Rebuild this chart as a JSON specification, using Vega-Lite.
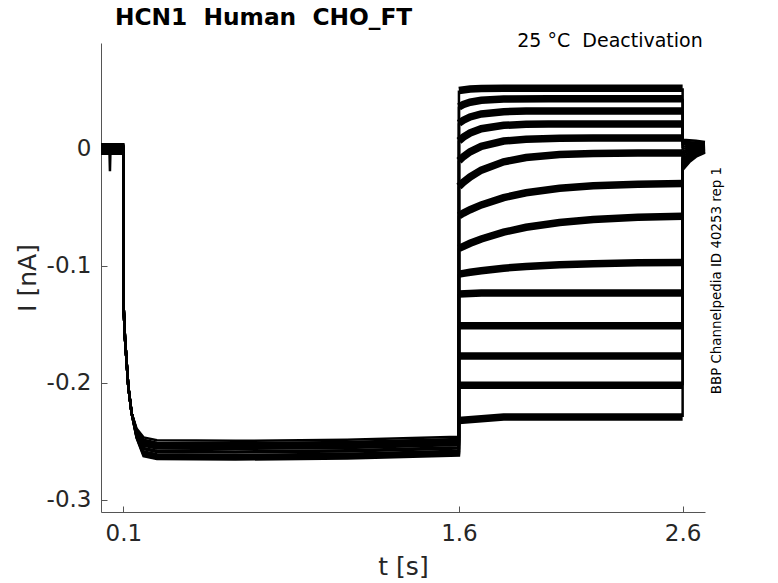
{
  "$schema": "https://vega.github.io/schema/vega-lite/v6.json",
  "width": 604,
  "height": 469,
  "autosize": "none",
  "padding": {"left": 101, "top": 43, "right": 73, "bottom": 71},
  "background": "white",
  "config": {
    "font": "DejaVu Sans",
    "view": {"stroke": null},
    "axis": {
      "grid": false,
      "domainColor": "#555555",
      "tickColor": "#555555",
      "tickSize": -6,
      "labelColor": "#262626",
      "titleColor": "#262626",
      "labelFont": "DejaVu Sans",
      "titleFont": "DejaVu Sans",
      "labelFontSize": 23,
      "titleFontSize": 25,
      "titleFontWeight": "normal"
    }
  },
  "title": {
    "text": "HCN1 \u00a0Human \u00a0CHO_FT",
    "anchor": "start",
    "frame": "group",
    "dx": 14,
    "offset": -16,
    "baseline": "alphabetic",
    "font": "DejaVu Sans",
    "fontSize": 23.3,
    "fontWeight": "bold",
    "color": "#000000"
  },
  "layer": [
    {
      "data": {
        "values": [
          {"sweep":1,"phase":"hold","t":0,"i":0.003},{"sweep":1,"phase":"hold","t":0.1,"i":0.003},{"sweep":1,"phase":"hold","t":0.1005,"i":-0.132},{"sweep":1,"phase":"hold","t":0.107,"i":-0.161},{"sweep":1,"phase":"hold","t":0.122,"i":-0.203},{"sweep":1,"phase":"hold","t":0.137,"i":-0.226},{"sweep":1,"phase":"hold","t":0.159,"i":-0.240},{"sweep":1,"phase":"hold","t":0.19,"i":-0.2485},{"sweep":1,"phase":"hold","t":0.25,"i":-0.251},{"sweep":1,"phase":"hold","t":0.6,"i":-0.2515},{"sweep":1,"phase":"hold","t":1.1,"i":-0.2505},{"sweep":1,"phase":"hold","t":1.6,"i":-0.248},{"sweep":1,"phase":"hold","t":1.6001,"i":0.050},
          {"sweep":1,"phase":"test","t":1.6001,"i":0.050},{"sweep":1,"phase":"test","t":1.65,"i":0.0513},{"sweep":1,"phase":"test","t":1.7,"i":0.0517},{"sweep":1,"phase":"test","t":1.8,"i":0.052},{"sweep":1,"phase":"test","t":2.6,"i":0.052},
          {"sweep":1,"phase":"tail","t":2.6,"i":0.052},{"sweep":1,"phase":"tail","t":2.6001,"i":0.008},{"sweep":1,"phase":"tail","t":2.63,"i":0.0075},{"sweep":1,"phase":"tail","t":2.66,"i":0.007},{"sweep":1,"phase":"tail","t":2.7,"i":0.006},

          {"sweep":2,"phase":"hold","t":0,"i":-0.002},{"sweep":2,"phase":"hold","t":0.1,"i":-0.002},{"sweep":2,"phase":"hold","t":0.1005,"i":-0.132},{"sweep":2,"phase":"hold","t":0.107,"i":-0.161},{"sweep":2,"phase":"hold","t":0.122,"i":-0.203},{"sweep":2,"phase":"hold","t":0.137,"i":-0.226},{"sweep":2,"phase":"hold","t":0.159,"i":-0.245},{"sweep":2,"phase":"hold","t":0.19,"i":-0.2585},{"sweep":2,"phase":"hold","t":0.25,"i":-0.261},{"sweep":2,"phase":"hold","t":0.6,"i":-0.2615},{"sweep":2,"phase":"hold","t":1.1,"i":-0.2605},{"sweep":2,"phase":"hold","t":1.6,"i":-0.258},{"sweep":2,"phase":"hold","t":1.6001,"i":0.036},
          {"sweep":2,"phase":"test","t":1.6001,"i":0.036},{"sweep":2,"phase":"test","t":1.62,"i":0.038},{"sweep":2,"phase":"test","t":1.65,"i":0.040},{"sweep":2,"phase":"test","t":1.7,"i":0.0417},{"sweep":2,"phase":"test","t":1.8,"i":0.0427},{"sweep":2,"phase":"test","t":2.0,"i":0.043},{"sweep":2,"phase":"test","t":2.6,"i":0.043},
          {"sweep":2,"phase":"tail","t":2.6,"i":0.043},{"sweep":2,"phase":"tail","t":2.6001,"i":0.006},{"sweep":2,"phase":"tail","t":2.63,"i":0.0058},{"sweep":2,"phase":"tail","t":2.66,"i":0.0055},{"sweep":2,"phase":"tail","t":2.7,"i":0.0053},

          {"sweep":3,"phase":"hold","t":0,"i":0.001},{"sweep":3,"phase":"hold","t":0.1,"i":0.001},{"sweep":3,"phase":"hold","t":0.1005,"i":-0.132},{"sweep":3,"phase":"hold","t":0.107,"i":-0.161},{"sweep":3,"phase":"hold","t":0.122,"i":-0.203},{"sweep":3,"phase":"hold","t":0.137,"i":-0.226},{"sweep":3,"phase":"hold","t":0.159,"i":-0.242},{"sweep":3,"phase":"hold","t":0.19,"i":-0.2525},{"sweep":3,"phase":"hold","t":0.25,"i":-0.255},{"sweep":3,"phase":"hold","t":0.6,"i":-0.2555},{"sweep":3,"phase":"hold","t":1.1,"i":-0.2545},{"sweep":3,"phase":"hold","t":1.6,"i":-0.252},{"sweep":3,"phase":"hold","t":1.6001,"i":0.022},
          {"sweep":3,"phase":"test","t":1.6001,"i":0.022},{"sweep":3,"phase":"test","t":1.62,"i":0.0246},{"sweep":3,"phase":"test","t":1.65,"i":0.0274},{"sweep":3,"phase":"test","t":1.7,"i":0.030},{"sweep":3,"phase":"test","t":1.8,"i":0.0319},{"sweep":3,"phase":"test","t":1.9,"i":0.0324},{"sweep":3,"phase":"test","t":2.6,"i":0.0325},
          {"sweep":3,"phase":"tail","t":2.6,"i":0.0325},{"sweep":3,"phase":"tail","t":2.6001,"i":0.004},{"sweep":3,"phase":"tail","t":2.63,"i":0.0042},{"sweep":3,"phase":"tail","t":2.66,"i":0.0044},{"sweep":3,"phase":"tail","t":2.7,"i":0.0046},

          {"sweep":4,"phase":"hold","t":0,"i":-0.0035},{"sweep":4,"phase":"hold","t":0.038,"i":-0.0035},{"sweep":4,"phase":"hold","t":0.04,"i":-0.019},{"sweep":4,"phase":"hold","t":0.042,"i":-0.0035},{"sweep":4,"phase":"hold","t":0.1,"i":-0.0035},{"sweep":4,"phase":"hold","t":0.1005,"i":-0.132},{"sweep":4,"phase":"hold","t":0.107,"i":-0.161},{"sweep":4,"phase":"hold","t":0.122,"i":-0.203},{"sweep":4,"phase":"hold","t":0.137,"i":-0.226},{"sweep":4,"phase":"hold","t":0.159,"i":-0.2465},{"sweep":4,"phase":"hold","t":0.19,"i":-0.2615},{"sweep":4,"phase":"hold","t":0.25,"i":-0.264},{"sweep":4,"phase":"hold","t":0.6,"i":-0.2645},{"sweep":4,"phase":"hold","t":1.1,"i":-0.2635},{"sweep":4,"phase":"hold","t":1.6,"i":-0.261},{"sweep":4,"phase":"hold","t":1.6001,"i":0.007},
          {"sweep":4,"phase":"test","t":1.6001,"i":0.007},{"sweep":4,"phase":"test","t":1.62,"i":0.0102},{"sweep":4,"phase":"test","t":1.65,"i":0.0137},{"sweep":4,"phase":"test","t":1.7,"i":0.0173},{"sweep":4,"phase":"test","t":1.8,"i":0.0202},{"sweep":4,"phase":"test","t":1.9,"i":0.0211},{"sweep":4,"phase":"test","t":2.0,"i":0.0213},{"sweep":4,"phase":"test","t":2.6,"i":0.0214},
          {"sweep":4,"phase":"tail","t":2.6,"i":0.0214},{"sweep":4,"phase":"tail","t":2.6001,"i":0.002},{"sweep":4,"phase":"tail","t":2.63,"i":0.0028},{"sweep":4,"phase":"tail","t":2.66,"i":0.0034},{"sweep":4,"phase":"tail","t":2.7,"i":0.0039},

          {"sweep":5,"phase":"hold","t":0,"i":0.002},{"sweep":5,"phase":"hold","t":0.1,"i":0.002},{"sweep":5,"phase":"hold","t":0.1005,"i":-0.132},{"sweep":5,"phase":"hold","t":0.107,"i":-0.161},{"sweep":5,"phase":"hold","t":0.122,"i":-0.203},{"sweep":5,"phase":"hold","t":0.137,"i":-0.226},{"sweep":5,"phase":"hold","t":0.159,"i":-0.241},{"sweep":5,"phase":"hold","t":0.19,"i":-0.2505},{"sweep":5,"phase":"hold","t":0.25,"i":-0.253},{"sweep":5,"phase":"hold","t":0.6,"i":-0.2535},{"sweep":5,"phase":"hold","t":1.1,"i":-0.2525},{"sweep":5,"phase":"hold","t":1.6,"i":-0.250},{"sweep":5,"phase":"hold","t":1.6001,"i":-0.010},
          {"sweep":5,"phase":"test","t":1.6001,"i":-0.010},{"sweep":5,"phase":"test","t":1.62,"i":-0.0065},{"sweep":5,"phase":"test","t":1.65,"i":-0.0024},{"sweep":5,"phase":"test","t":1.7,"i":0.0023},{"sweep":5,"phase":"test","t":1.8,"i":0.0068},{"sweep":5,"phase":"test","t":1.9,"i":0.0084},{"sweep":5,"phase":"test","t":2.05,"i":0.0092},{"sweep":5,"phase":"test","t":2.2,"i":0.0094},{"sweep":5,"phase":"test","t":2.6,"i":0.0094},
          {"sweep":5,"phase":"tail","t":2.6,"i":0.0094},{"sweep":5,"phase":"tail","t":2.6001,"i":0.000},{"sweep":5,"phase":"tail","t":2.63,"i":0.0014},{"sweep":5,"phase":"tail","t":2.66,"i":0.0024},{"sweep":5,"phase":"tail","t":2.7,"i":0.0032},

          {"sweep":6,"phase":"hold","t":0,"i":-0.0005},{"sweep":6,"phase":"hold","t":0.1,"i":-0.0005},{"sweep":6,"phase":"hold","t":0.1005,"i":-0.132},{"sweep":6,"phase":"hold","t":0.107,"i":-0.161},{"sweep":6,"phase":"hold","t":0.122,"i":-0.203},{"sweep":6,"phase":"hold","t":0.137,"i":-0.226},{"sweep":6,"phase":"hold","t":0.159,"i":-0.2435},{"sweep":6,"phase":"hold","t":0.19,"i":-0.2555},{"sweep":6,"phase":"hold","t":0.25,"i":-0.258},{"sweep":6,"phase":"hold","t":0.6,"i":-0.2585},{"sweep":6,"phase":"hold","t":1.1,"i":-0.2575},{"sweep":6,"phase":"hold","t":1.6,"i":-0.255},{"sweep":6,"phase":"hold","t":1.6001,"i":-0.032},
          {"sweep":6,"phase":"test","t":1.6001,"i":-0.032},{"sweep":6,"phase":"test","t":1.62,"i":-0.0284},{"sweep":6,"phase":"test","t":1.65,"i":-0.0239},{"sweep":6,"phase":"test","t":1.7,"i":-0.0181},{"sweep":6,"phase":"test","t":1.8,"i":-0.0110},{"sweep":6,"phase":"test","t":1.9,"i":-0.0073},{"sweep":6,"phase":"test","t":2.05,"i":-0.0048},{"sweep":6,"phase":"test","t":2.2,"i":-0.0039},{"sweep":6,"phase":"test","t":2.4,"i":-0.0035},{"sweep":6,"phase":"test","t":2.6,"i":-0.0034},
          {"sweep":6,"phase":"tail","t":2.6,"i":-0.0034},{"sweep":6,"phase":"tail","t":2.6001,"i":-0.002},{"sweep":6,"phase":"tail","t":2.63,"i":0.0000},{"sweep":6,"phase":"tail","t":2.66,"i":0.0014},{"sweep":6,"phase":"tail","t":2.7,"i":0.0025},

          {"sweep":7,"phase":"hold","t":0,"i":0.004},{"sweep":7,"phase":"hold","t":0.1,"i":0.004},{"sweep":7,"phase":"hold","t":0.1005,"i":-0.132},{"sweep":7,"phase":"hold","t":0.107,"i":-0.161},{"sweep":7,"phase":"hold","t":0.122,"i":-0.203},{"sweep":7,"phase":"hold","t":0.137,"i":-0.226},{"sweep":7,"phase":"hold","t":0.159,"i":-0.239},{"sweep":7,"phase":"hold","t":0.19,"i":-0.2465},{"sweep":7,"phase":"hold","t":0.25,"i":-0.249},{"sweep":7,"phase":"hold","t":0.6,"i":-0.2495},{"sweep":7,"phase":"hold","t":1.1,"i":-0.2485},{"sweep":7,"phase":"hold","t":1.6,"i":-0.246},{"sweep":7,"phase":"hold","t":1.6001,"i":-0.057},
          {"sweep":7,"phase":"test","t":1.6001,"i":-0.057},{"sweep":7,"phase":"test","t":1.62,"i":-0.0548},{"sweep":7,"phase":"test","t":1.65,"i":-0.0519},{"sweep":7,"phase":"test","t":1.7,"i":-0.0478},{"sweep":7,"phase":"test","t":1.8,"i":-0.0416},{"sweep":7,"phase":"test","t":1.9,"i":-0.0374},{"sweep":7,"phase":"test","t":2.05,"i":-0.0336},{"sweep":7,"phase":"test","t":2.2,"i":-0.0315},{"sweep":7,"phase":"test","t":2.4,"i":-0.0301},{"sweep":7,"phase":"test","t":2.6,"i":-0.0295},
          {"sweep":7,"phase":"tail","t":2.6,"i":-0.0295},{"sweep":7,"phase":"tail","t":2.6001,"i":-0.004},{"sweep":7,"phase":"tail","t":2.63,"i":-0.0014},{"sweep":7,"phase":"tail","t":2.66,"i":0.0004},{"sweep":7,"phase":"tail","t":2.7,"i":0.0018},

          {"sweep":8,"phase":"hold","t":0,"i":-0.0025},{"sweep":8,"phase":"hold","t":0.1,"i":-0.0025},{"sweep":8,"phase":"hold","t":0.1005,"i":-0.132},{"sweep":8,"phase":"hold","t":0.107,"i":-0.161},{"sweep":8,"phase":"hold","t":0.122,"i":-0.203},{"sweep":8,"phase":"hold","t":0.137,"i":-0.226},{"sweep":8,"phase":"hold","t":0.159,"i":-0.2455},{"sweep":8,"phase":"hold","t":0.19,"i":-0.2595},{"sweep":8,"phase":"hold","t":0.25,"i":-0.262},{"sweep":8,"phase":"hold","t":0.6,"i":-0.2625},{"sweep":8,"phase":"hold","t":1.1,"i":-0.2615},{"sweep":8,"phase":"hold","t":1.6,"i":-0.259},{"sweep":8,"phase":"hold","t":1.6001,"i":-0.085},
          {"sweep":8,"phase":"test","t":1.6001,"i":-0.085},{"sweep":8,"phase":"test","t":1.62,"i":-0.0832},{"sweep":8,"phase":"test","t":1.65,"i":-0.0806},{"sweep":8,"phase":"test","t":1.7,"i":-0.0769},{"sweep":8,"phase":"test","t":1.8,"i":-0.0711},{"sweep":8,"phase":"test","t":1.9,"i":-0.0669},{"sweep":8,"phase":"test","t":2.05,"i":-0.0628},{"sweep":8,"phase":"test","t":2.2,"i":-0.0603},{"sweep":8,"phase":"test","t":2.4,"i":-0.0584},{"sweep":8,"phase":"test","t":2.6,"i":-0.0574},
          {"sweep":8,"phase":"tail","t":2.6,"i":-0.0574},{"sweep":8,"phase":"tail","t":2.6001,"i":-0.006},{"sweep":8,"phase":"tail","t":2.63,"i":-0.0028},{"sweep":8,"phase":"tail","t":2.66,"i":-0.0006},{"sweep":8,"phase":"tail","t":2.7,"i":0.0011},

          {"sweep":9,"phase":"hold","t":0,"i":0.0005},{"sweep":9,"phase":"hold","t":0.1,"i":0.0005},{"sweep":9,"phase":"hold","t":0.1005,"i":-0.132},{"sweep":9,"phase":"hold","t":0.107,"i":-0.161},{"sweep":9,"phase":"hold","t":0.122,"i":-0.203},{"sweep":9,"phase":"hold","t":0.137,"i":-0.226},{"sweep":9,"phase":"hold","t":0.159,"i":-0.2425},{"sweep":9,"phase":"hold","t":0.19,"i":-0.2535},{"sweep":9,"phase":"hold","t":0.25,"i":-0.256},{"sweep":9,"phase":"hold","t":0.6,"i":-0.2565},{"sweep":9,"phase":"hold","t":1.1,"i":-0.2555},{"sweep":9,"phase":"hold","t":1.6,"i":-0.253},{"sweep":9,"phase":"hold","t":1.6001,"i":-0.107},
          {"sweep":9,"phase":"test","t":1.6001,"i":-0.107},{"sweep":9,"phase":"test","t":1.62,"i":-0.1063},{"sweep":9,"phase":"test","t":1.65,"i":-0.1054},{"sweep":9,"phase":"test","t":1.7,"i":-0.1041},{"sweep":9,"phase":"test","t":1.8,"i":-0.1019},{"sweep":9,"phase":"test","t":1.9,"i":-0.1004},{"sweep":9,"phase":"test","t":2.05,"i":-0.0989},{"sweep":9,"phase":"test","t":2.2,"i":-0.098},{"sweep":9,"phase":"test","t":2.4,"i":-0.0973},{"sweep":9,"phase":"test","t":2.6,"i":-0.097},
          {"sweep":9,"phase":"tail","t":2.6,"i":-0.097},{"sweep":9,"phase":"tail","t":2.6001,"i":-0.008},{"sweep":9,"phase":"tail","t":2.63,"i":-0.0042},{"sweep":9,"phase":"tail","t":2.66,"i":-0.0016},{"sweep":9,"phase":"tail","t":2.7,"i":0.0004},

          {"sweep":10,"phase":"hold","t":0,"i":-0.004},{"sweep":10,"phase":"hold","t":0.1,"i":-0.004},{"sweep":10,"phase":"hold","t":0.1005,"i":-0.132},{"sweep":10,"phase":"hold","t":0.107,"i":-0.161},{"sweep":10,"phase":"hold","t":0.122,"i":-0.203},{"sweep":10,"phase":"hold","t":0.137,"i":-0.226},{"sweep":10,"phase":"hold","t":0.159,"i":-0.247},{"sweep":10,"phase":"hold","t":0.19,"i":-0.2625},{"sweep":10,"phase":"hold","t":0.25,"i":-0.265},{"sweep":10,"phase":"hold","t":0.6,"i":-0.2655},{"sweep":10,"phase":"hold","t":1.1,"i":-0.2645},{"sweep":10,"phase":"hold","t":1.6,"i":-0.262},{"sweep":10,"phase":"hold","t":1.6001,"i":-0.124},
          {"sweep":10,"phase":"test","t":1.6001,"i":-0.124},{"sweep":10,"phase":"test","t":1.7,"i":-0.123},{"sweep":10,"phase":"test","t":2.6,"i":-0.123},
          {"sweep":10,"phase":"tail","t":2.6,"i":-0.123},{"sweep":10,"phase":"tail","t":2.6001,"i":-0.010},{"sweep":10,"phase":"tail","t":2.63,"i":-0.0056},{"sweep":10,"phase":"tail","t":2.66,"i":-0.0026},{"sweep":10,"phase":"tail","t":2.7,"i":-0.0003},

          {"sweep":11,"phase":"hold","t":0,"i":0.0025},{"sweep":11,"phase":"hold","t":0.1,"i":0.0025},{"sweep":11,"phase":"hold","t":0.1005,"i":-0.132},{"sweep":11,"phase":"hold","t":0.107,"i":-0.161},{"sweep":11,"phase":"hold","t":0.122,"i":-0.203},{"sweep":11,"phase":"hold","t":0.137,"i":-0.226},{"sweep":11,"phase":"hold","t":0.159,"i":-0.2405},{"sweep":11,"phase":"hold","t":0.19,"i":-0.2495},{"sweep":11,"phase":"hold","t":0.25,"i":-0.252},{"sweep":11,"phase":"hold","t":0.6,"i":-0.2525},{"sweep":11,"phase":"hold","t":1.1,"i":-0.2515},{"sweep":11,"phase":"hold","t":1.6,"i":-0.249},{"sweep":11,"phase":"hold","t":1.6001,"i":-0.151},
          {"sweep":11,"phase":"test","t":1.6001,"i":-0.151},{"sweep":11,"phase":"test","t":2.6,"i":-0.151},
          {"sweep":11,"phase":"tail","t":2.6,"i":-0.151},{"sweep":11,"phase":"tail","t":2.6001,"i":-0.012},{"sweep":11,"phase":"tail","t":2.63,"i":-0.007},{"sweep":11,"phase":"tail","t":2.66,"i":-0.0036},{"sweep":11,"phase":"tail","t":2.7,"i":-0.001},

          {"sweep":12,"phase":"hold","t":0,"i":-0.001},{"sweep":12,"phase":"hold","t":0.1,"i":-0.001},{"sweep":12,"phase":"hold","t":0.1005,"i":-0.132},{"sweep":12,"phase":"hold","t":0.107,"i":-0.161},{"sweep":12,"phase":"hold","t":0.122,"i":-0.203},{"sweep":12,"phase":"hold","t":0.137,"i":-0.226},{"sweep":12,"phase":"hold","t":0.159,"i":-0.244},{"sweep":12,"phase":"hold","t":0.19,"i":-0.2565},{"sweep":12,"phase":"hold","t":0.25,"i":-0.259},{"sweep":12,"phase":"hold","t":0.6,"i":-0.2595},{"sweep":12,"phase":"hold","t":1.1,"i":-0.2585},{"sweep":12,"phase":"hold","t":1.6,"i":-0.256},{"sweep":12,"phase":"hold","t":1.6001,"i":-0.177},
          {"sweep":12,"phase":"test","t":1.6001,"i":-0.177},{"sweep":12,"phase":"test","t":2.6,"i":-0.177},
          {"sweep":12,"phase":"tail","t":2.6,"i":-0.177},{"sweep":12,"phase":"tail","t":2.6001,"i":-0.014},{"sweep":12,"phase":"tail","t":2.63,"i":-0.0084},{"sweep":12,"phase":"tail","t":2.66,"i":-0.0046},{"sweep":12,"phase":"tail","t":2.7,"i":-0.0017},

          {"sweep":13,"phase":"hold","t":0,"i":0.0015},{"sweep":13,"phase":"hold","t":0.1,"i":0.0015},{"sweep":13,"phase":"hold","t":0.1005,"i":-0.132},{"sweep":13,"phase":"hold","t":0.107,"i":-0.161},{"sweep":13,"phase":"hold","t":0.122,"i":-0.203},{"sweep":13,"phase":"hold","t":0.137,"i":-0.226},{"sweep":13,"phase":"hold","t":0.159,"i":-0.2415},{"sweep":13,"phase":"hold","t":0.19,"i":-0.2515},{"sweep":13,"phase":"hold","t":0.25,"i":-0.254},{"sweep":13,"phase":"hold","t":0.6,"i":-0.2545},{"sweep":13,"phase":"hold","t":1.1,"i":-0.2535},{"sweep":13,"phase":"hold","t":1.6,"i":-0.251},{"sweep":13,"phase":"hold","t":1.6001,"i":-0.202},
          {"sweep":13,"phase":"test","t":1.6001,"i":-0.202},{"sweep":13,"phase":"test","t":2.6,"i":-0.202},
          {"sweep":13,"phase":"tail","t":2.6,"i":-0.202},{"sweep":13,"phase":"tail","t":2.6001,"i":-0.016},{"sweep":13,"phase":"tail","t":2.63,"i":-0.0098},{"sweep":13,"phase":"tail","t":2.66,"i":-0.0056},{"sweep":13,"phase":"tail","t":2.7,"i":-0.0024},

          {"sweep":14,"phase":"hold","t":0,"i":-0.003},{"sweep":14,"phase":"hold","t":0.1,"i":-0.003},{"sweep":14,"phase":"hold","t":0.1005,"i":-0.132},{"sweep":14,"phase":"hold","t":0.107,"i":-0.161},{"sweep":14,"phase":"hold","t":0.122,"i":-0.203},{"sweep":14,"phase":"hold","t":0.137,"i":-0.226},{"sweep":14,"phase":"hold","t":0.159,"i":-0.246},{"sweep":14,"phase":"hold","t":0.19,"i":-0.2605},{"sweep":14,"phase":"hold","t":0.25,"i":-0.263},{"sweep":14,"phase":"hold","t":0.6,"i":-0.2635},{"sweep":14,"phase":"hold","t":1.1,"i":-0.2625},{"sweep":14,"phase":"hold","t":1.6,"i":-0.260},{"sweep":14,"phase":"hold","t":1.6001,"i":-0.232},
          {"sweep":14,"phase":"test","t":1.6001,"i":-0.232},{"sweep":14,"phase":"test","t":1.8,"i":-0.229},{"sweep":14,"phase":"test","t":2.6,"i":-0.229},
          {"sweep":14,"phase":"tail","t":2.6,"i":-0.229},{"sweep":14,"phase":"tail","t":2.6001,"i":-0.018},{"sweep":14,"phase":"tail","t":2.63,"i":-0.0112},{"sweep":14,"phase":"tail","t":2.66,"i":-0.0066},{"sweep":14,"phase":"tail","t":2.7,"i":-0.003}
        ]
      },
      "encoding": {
        "x": {
          "field": "t",
          "type": "quantitative",
          "scale": {"domain": [0, 2.7], "nice": false, "zero": false},
          "axis": {
            "values": [0.1, 1.6, 2.6],
            "format": ".1f",
            "title": "t [s]",
            "labelPadding": 16,
            "titlePadding": 9
          }
        },
        "y": {
          "field": "i",
          "type": "quantitative",
          "scale": {"domain": [-0.3103, 0.0906], "nice": false, "zero": false},
          "axis": {
            "values": [0, -0.1, -0.2, -0.3],
            "labelExpr": "datum.value == 0 ? '0' : '-' + format(abs(datum.value), '.1f')",
            "title": "I [nA]",
            "labelPadding": 16,
            "titlePadding": 6
          }
        },
        "detail": {"field": "sweep", "type": "nominal"}
      },
      "layer": [
        {
          "transform": [{"filter": "datum.phase == 'hold'"}],
          "mark": {"type": "line", "color": "#000000", "strokeWidth": 2.5}
        },
        {
          "transform": [{"filter": "datum.phase == 'test'"}],
          "mark": {"type": "line", "color": "#000000", "strokeWidth": 7.5}
        },
        {
          "transform": [{"filter": "datum.phase == 'tail'"}],
          "mark": {"type": "line", "color": "#000000", "strokeWidth": 2.5}
        }
      ]
    },
    {
      "data": {"values": [{"note": "25 °C \u00a0Deactivation"}]},
      "mark": {"type": "text", "align": "right", "baseline": "alphabetic", "fontSize": 19, "color": "#000000", "font": "DejaVu Sans"},
      "encoding": {
        "x": {"datum": 2.69},
        "y": {"datum": 0.0872},
        "text": {"field": "note", "type": "nominal"}
      }
    },
    {
      "data": {"values": [{"note": "BBP Channelpedia ID 40253 rep 1"}]},
      "mark": {"type": "text", "align": "center", "baseline": "middle", "angle": 270, "fontSize": 13.4, "color": "#000000", "font": "DejaVu Sans"},
      "encoding": {
        "x": {"datum": 2.752},
        "y": {"datum": -0.1125},
        "text": {"field": "note", "type": "nominal"}
      }
    }
  ]
}
